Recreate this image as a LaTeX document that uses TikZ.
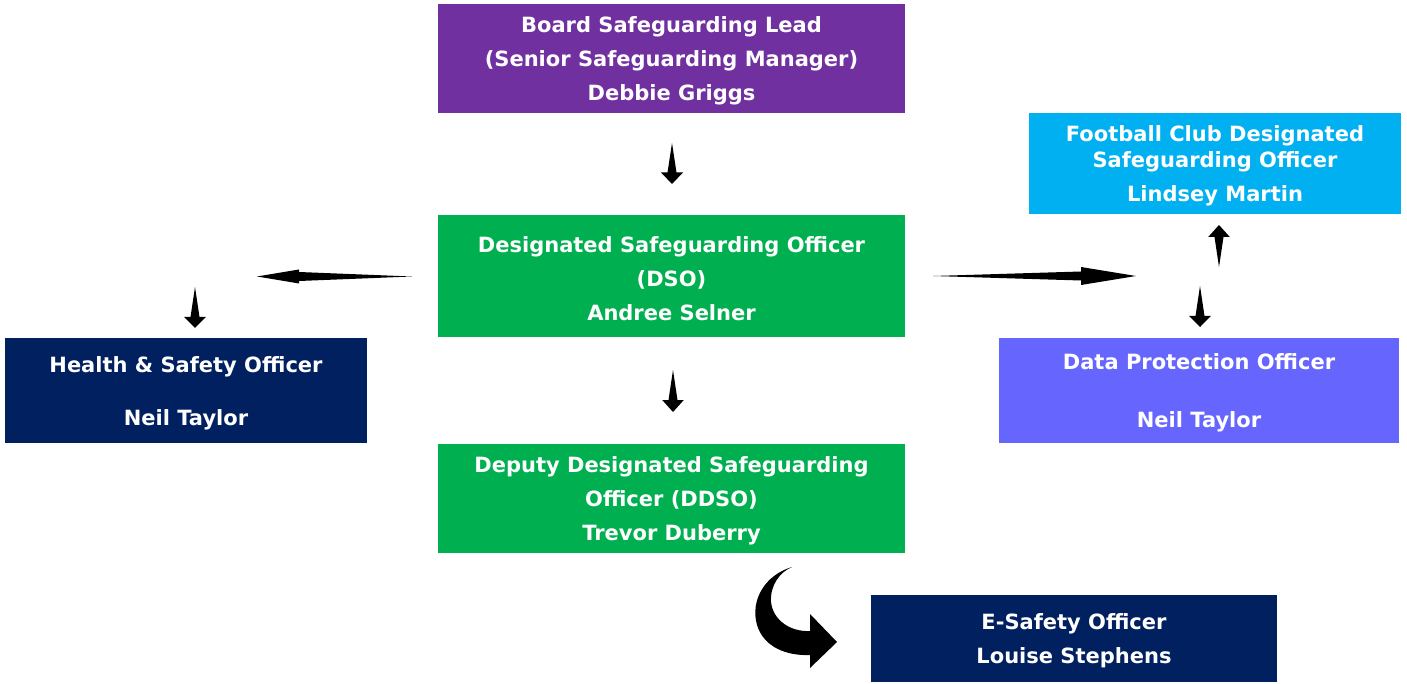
\documentclass[tikz,border=0pt]{standalone}
\usepackage{fontspec}
\setmainfont{DejaVu Sans}
\usetikzlibrary{positioning, calc}

\definecolor{boardpurple}{HTML}{7030A0}
\definecolor{dsogreen}{HTML}{00B050}
\definecolor{clubcyan}{HTML}{00B0F0}
\definecolor{dpoblue}{HTML}{6666FF}
\definecolor{officernavy}{HTML}{002060}

% tapered arrow: tail, tip, head length, head half width
\newcommand{\slimarrow}[4]{%
  \coordinate (hb) at ($(#2)!#3!(#1)$);
  \fill (#1) -- ($(hb)!4.5pt!90:(#2)$) -- ($(hb)!#4!90:(#2)$) -- (#2)
    -- ($(hb)!#4!-90:(#2)$) -- ($(hb)!4.5pt!-90:(#2)$) -- cycle;}

\begin{document}
\begin{tikzpicture}[x=1pt, y=-1pt,
    box/.style={rectangle, inner sep=0pt, outer sep=0pt},
    boxtext/.style={text=white, align=center, inner sep=0pt, yshift=-2.5pt,
      font=\bfseries\fontsize{21}{34}\selectfont}]
    \useasboundingbox (0,0) rectangle (1407,684);

    % MAIN COLUMN
    \node[box, fill=boardpurple, minimum width=467pt, minimum height=109pt,
        label={[boxtext]center:{Board Safeguarding Lead\\(Senior Safeguarding Manager)\\Debbie Griggs}}]
        (board) at (671.5,58.5) {};
    \node[box, fill=dsogreen, minimum width=467pt, minimum height=122pt,
        label={[boxtext]center:{Designated Safeguarding Officer\\(DSO)\\Andree Selner}}]
        (dso) [below=102pt of board] {};
    \node[box, fill=dsogreen, minimum width=467pt, minimum height=109pt,
        label={[boxtext]center:{Deputy Designated Safeguarding\\Officer (DDSO)\\Trevor Duberry}}]
        (ddso) [below=107pt of dso] {};

    % SIDE BOXES
    \node[box, fill=clubcyan, minimum width=372pt, minimum height=101pt,
        label={[boxtext]center:{Football Club Designated\\[-8pt]Safeguarding Officer\\Lindsey Martin}}]
        (club) at (1215,163.5) {};
    \node[box, fill=dpoblue, minimum width=400pt, minimum height=105pt,
        label={[boxtext]center:{Data Protection Officer\\[24pt]Neil Taylor}}]
        (dpo) at (1199,390.5) {};
    \node[box, fill=officernavy, minimum width=362pt, minimum height=105pt,
        label={[boxtext]center:{Health \& Safety Officer\\[19pt]Neil Taylor}}]
        (hso) at (186,390.5) {};
    \node[box, fill=officernavy, minimum width=406pt, minimum height=87pt,
        label={[boxtext]center:{E-Safety Officer\\Louise Stephens}}]
        (esafety) at (1074,638.5) {};

    % ARROW ENDS
    \coordinate (boardtail) at (672,143);   \coordinate (boardtip) at (672,184);
    \coordinate (lefttail) at (412,276.5);  \coordinate (lefttip) at (257,276.5);
    \coordinate (righttail) at (933,276);   \coordinate (righttip) at (1136,276);
    \coordinate (clubtail) at (1219,267);   \coordinate (clubtip) at (1219,225);
    \coordinate (dpotail) at (1200,286);    \coordinate (dpotip) at (1200,327);
    \coordinate (hsotail) at (195,287);     \coordinate (hsotip) at (195,328);
    \coordinate (ddsotail) at (673,370);    \coordinate (ddsotip) at (673,412);
    \coordinate (curvetail) at (792,567);   \coordinate (curvetip) at (837,642);

    % ARROWS
    \slimarrow{boardtail}{boardtip}{11.5pt}{11pt}
    \slimarrow{lefttail}{lefttip}{42pt}{7pt}
    \slimarrow{righttail}{righttip}{55pt}{9pt}
    \slimarrow{clubtail}{clubtip}{12pt}{10.8pt}
    \slimarrow{dpotail}{dpotip}{11pt}{10.8pt}
    \slimarrow{hsotail}{hsotip}{11pt}{10.8pt}
    \slimarrow{ddsotail}{ddsotip}{12pt}{10.8pt}
    \fill (curvetail) .. controls (765,575) and (750,600) .. (757,625)
        .. controls (764,648) and (788,656) .. (810,655) -- (810,668) -- (curvetip)
        -- (810,614) -- (810,631) .. controls (790,632) and (773,620) .. (771,602)
        .. controls (770,585) and (780,572) .. (curvetail) -- cycle;
\end{tikzpicture}
\end{document}
